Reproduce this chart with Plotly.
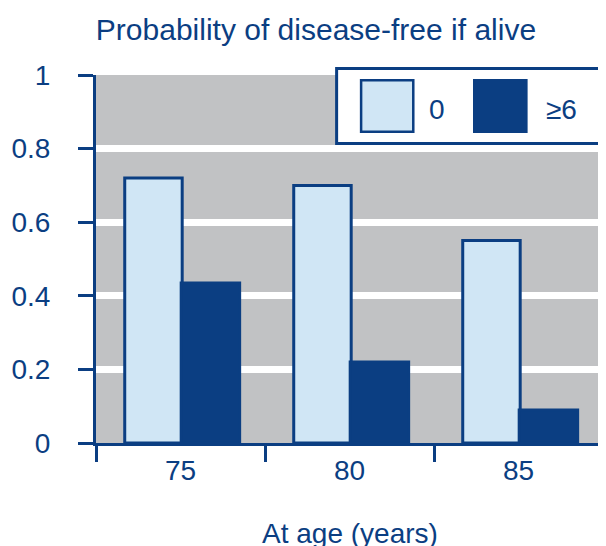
import plotly.graph_objects as go

# data
ages = ["75", "80", "85"]
score_0 = [0.72, 0.70, 0.55]
score_6plus = [0.435, 0.22, 0.09]
series_names = ["0", "≥6"]
y_ticks = [0, 0.2, 0.4, 0.6, 0.8, 1]

DARK = "#0b3e82"
LIGHT = "#d0e6f5"
GRAY = "#c1c2c4"
FONT = "Liberation Sans, Arial, sans-serif"

fig = go.Figure()

fig.add_trace(go.Bar(
    x=ages, y=score_0, name=series_names[0],
    width=0.34, offset=-0.33,
    marker=dict(color=LIGHT, line=dict(color=DARK, width=3)),
    cliponaxis=False,
))
fig.add_trace(go.Bar(
    x=ages, y=score_6plus, name=series_names[1],
    width=0.346, offset=0.004,
    marker=dict(color=DARK, line=dict(color=DARK, width=3)),
    cliponaxis=False,
))

# hand drawn legend box (big swatches like the original)
shapes = [
    dict(type="rect", xref="paper", yref="paper", x0=0.4746, x1=1.03, y0=0.8139, y1=1.0177,
         fillcolor="white", line=dict(color=DARK, width=3), layer="above"),
    dict(type="rect", xref="paper", yref="paper", x0=0.5229, x1=0.6258, y0=0.8457, y1=0.9859,
         fillcolor=LIGHT, line=dict(color=DARK, width=2.5), layer="above"),
    dict(type="rect", xref="paper", yref="paper", x0=0.7436, x1=0.8513, y0=0.8424, y1=0.9891,
         fillcolor=DARK, line=dict(color=DARK, width=0), layer="above"),
]

annotations = [
    dict(text=series_names[0], x=0.6722, y=0.906, xref="paper", yref="paper",
         showarrow=False, xanchor="center", yanchor="middle",
         font=dict(family=FONT, size=28, color=DARK)),
    dict(text=series_names[1], x=0.9178, y=0.906, xref="paper", yref="paper",
         showarrow=False, xanchor="center", yanchor="middle",
         font=dict(family=FONT, size=28, color=DARK)),
    dict(text="At age (years)", x=0.5, y=-0.245, xref="paper", yref="paper",
         showarrow=False, xanchor="center", yanchor="middle",
         font=dict(family=FONT, size=28, color=DARK)),
]

# page body has an 8px margin, so the figure is drawn 8px in from the corner
fig.update_layout(
    width=598, height=538,
    margin=dict(l=84, r=3, t=67, b=103),
    paper_bgcolor="white",
    plot_bgcolor=GRAY,
    barmode="overlay",
    showlegend=False,
    title=dict(text="Probability of disease-free if alive", x=0.515, xanchor="center",
               y=1 - 21 / 538, yanchor="middle", yref="container",
               font=dict(family=FONT, size=30, color=DARK)),
    shapes=shapes,
    annotations=annotations,
    font=dict(family=FONT, size=28, color=DARK),
)

fig.update_xaxes(
    type="category", range=[-0.5, 2.5],
    showline=True, linecolor=DARK, linewidth=3,
    ticks="outside", tickson="boundaries", ticklen=16, tickwidth=3, tickcolor=DARK,
    showgrid=False, tickfont=dict(family=FONT, size=28, color=DARK),
)
fig.update_yaxes(
    range=[0, 1], tickvals=y_ticks, ticktext=[f"{v:g}" for v in y_ticks],
    showline=True, linecolor=DARK, linewidth=3,
    ticks="outside", ticklen=15, tickwidth=3, tickcolor=DARK,
    showgrid=True, gridcolor="white", gridwidth=7, zeroline=False,
    ticklabelstandoff=22,
    tickfont=dict(family=FONT, size=28, color=DARK),
)

fig.write_html("out.html")
